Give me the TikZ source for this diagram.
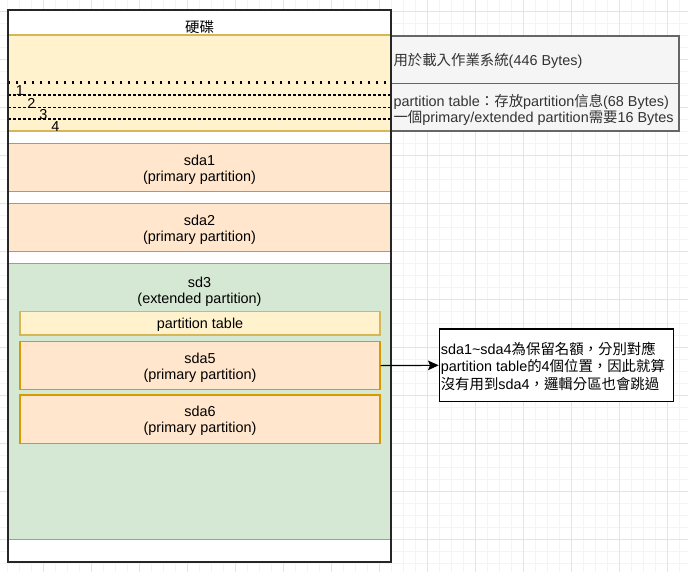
\documentclass[tikz,border=0pt]{standalone}
\usepackage{fontspec}
\setmainfont{Liberation Sans}
\newfontfamily\cjk{Noto Sans CJK TC}
\usetikzlibrary{arrows.meta}
\definecolor{yfill}{HTML}{FFF2CC}
\definecolor{ystroke}{HTML}{D6B656}
\definecolor{ofill}{HTML}{FFE6CC}
\definecolor{ostroke}{HTML}{D79B00}
\definecolor{gfill}{HTML}{D5E8D4}
\definecolor{gstroke}{HTML}{82B366}
\definecolor{grfill}{HTML}{F5F5F5}
\definecolor{grstroke}{HTML}{666666}
\definecolor{grtext}{HTML}{333333}
\definecolor{gridmajor}{HTML}{E4E4E4}
\definecolor{gridminor}{HTML}{F4F4F4}
\newcommand\firstln{\rule{0pt}{10.9pt}}
\tikzset{
  sz/.style 2 args={minimum width=#1*0.75pt, minimum height=#2*0.75pt},
  box/.style={draw, line width=0.9pt, inner sep=0pt, align=center,
    font=\fontsize{10.8}{12}\selectfont},
  partbox/.style={box, fill=ofill, draw=ostroke},
  mbrbox/.style={box, fill=yfill, draw=ystroke},
  extbox/.style={box, fill=gfill, draw=gstroke},
  graybox/.style={box, fill=grfill, draw=grstroke},
  notebox/.style={box, fill=white, draw=black},
  txt/.style={inner sep=0pt, align=center, font=\fontsize{10.8}{12}\selectfont},
  numtxt/.style={inner sep=0pt, font=\fontsize{10.8}{12}\selectfont},
  dashline/.style={line width=0.9pt, dash pattern=on 2.25pt off 1.5pt},
  dotline/.style={line width=1.8pt, dash pattern=on 1.8pt off 4.2pt},
  arrow/.style={line width=0.9pt, -{Stealth[length=8pt,width=7.2pt,inset=1.5pt]}},
}
\begin{document}
\begin{tikzpicture}[x=0.75pt,y=-0.75pt]
\useasboundingbox (0,0) rectangle (688,572);
% background grid
\foreach \gx in {7.7,19.7,...,688} \draw[gridminor,line width=0.6pt] (\gx,0) -- (\gx,572);
\foreach \gy in {11.3,23.3,...,572} \draw[gridminor,line width=0.6pt] (0,\gy) -- (688,\gy);
\foreach \gx in {43.7,91.7,...,688} \draw[gridmajor,line width=0.75pt] (\gx,0) -- (\gx,572);
\foreach \gy in {11.3,59.3,...,572} \draw[gridmajor,line width=0.75pt] (0,\gy) -- (688,\gy);

% disk
\node[box, fill=white, draw=none, sz={383}{552}] (disk) at (199.5,286) {};
\node[txt] (title) at (199.5,27) {{\cjk 硬碟}};

% MBR
\node[mbrbox, sz={383}{96}] (mbr) at (199.5,83) {};
\coordinate (d0a) at (8,82.3);  \coordinate (d0b) at (386,82.3);
\coordinate (d1a) at (8,95);    \coordinate (d1b) at (390,95);
\coordinate (d2a) at (8,107.3); \coordinate (d2b) at (390,107.3);
\coordinate (d3a) at (8,119);   \coordinate (d3b) at (390,119);
\draw[dotline] (d0a) -- (d0b);
\draw[dashline] (d1a) -- (d1b);
\draw[dashline] (d2a) -- (d2b);
\draw[dashline] (d3a) -- (d3b);
\node[numtxt] (n1) at (20,90.5) {1};
\node[numtxt] (n2) at (31.3,103) {2};
\node[numtxt] (n3) at (43.3,114.5) {3};
\node[numtxt] (n4) at (55.3,126.5) {4};

% gray explanation boxes
\node[graybox, sz={287.3}{47.3}] (g1) at (535.35,59.65) {};
\node[graybox, sz={287.3}{47.7}] (g2) at (535.35,107.15) {};
\node[txt, anchor=west, text=grtext] (g1t) at ([xshift=1.6pt,yshift=-0.6pt]g1.west)
  {{\cjk 用於載入作業系統}(446 Bytes)};
\node[txt, anchor=west, align=left, text=grtext,
  font=\fontsize{10.8}{11}\selectfont] (g2t) at ([xshift=1.6pt,yshift=-2pt]g2.west)
  {partition table{\cjk ：存放}partition{\cjk 信息}(68 Bytes)\\
   {\cjk 一個}primary/extended partition{\cjk 需要}16 Bytes};

% partitions
\node[partbox, sz={383}{48.4}] (sda1) at (199.5,167.5) {\firstln sda1\\(primary partition)};
\node[partbox, sz={383}{48.4}] (sda2) at (199.5,227.5) {\firstln sda2\\(primary partition)};
\node[extbox, sz={383}{276}] (sd3) at (199.5,401.3) {};
\node[txt] (sd3t) at (199.5,291.3) {sd3\\(extended partition)};
\node[mbrbox, sz={360}{23.3}] (ptable) at (200,323.3) {\rule{0pt}{10.2pt}partition table};
\node[partbox, sz={360}{47.8}] (sda5) at (200,365.6) {\firstln sda5\\(primary partition)};
\node[partbox, sz={360}{48.3}] (sda6) at (200,419.2) {\firstln sda6\\(primary partition)};

% disk border on top
\node[draw=black!85, line width=1.2pt, fill=none, inner sep=0pt, sz={383}{552}] (diskborder) at (199.5,286) {};

% note
\node[notebox, sz={234}{72.7}] (note) at (556.3,365.3) {};
\node[txt, anchor=west, align=left, font=\fontsize{10.8}{12.9}\selectfont] (notet)
  at ([xshift=1.4pt,yshift=-0.8pt]note.west)
  {sda1\textasciitilde sda4{\cjk 為保留名額，分別對應}\\
   partition table{\cjk 的}4{\cjk 個位置，因此就算}\\
   {\cjk 沒有用到}sda4{\cjk ，邏輯分區也會跳過}};

\draw[arrow] (sda5.east) -- (note.west);
\end{tikzpicture}
\end{document}
